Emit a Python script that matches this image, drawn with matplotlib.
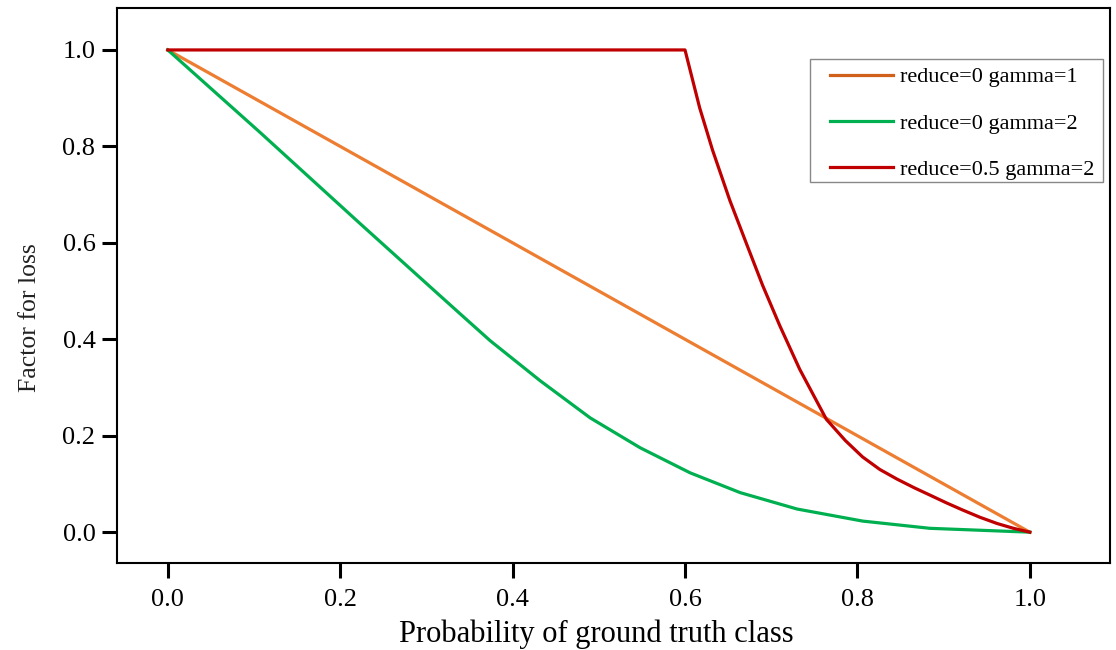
import matplotlib
matplotlib.use('Agg')
import matplotlib.pyplot as plt
from matplotlib.patches import Rectangle
import numpy as np

# values
orange_x = [0.0, 1.0]
orange_y = [1.0, 0.0]

green_x = [0.0, 0.107, 0.223, 0.316, 0.339, 0.374, 0.432, 0.490, 0.548,
           0.606, 0.664, 0.730, 0.806, 0.884, 1.0]
green_y = [1.0, 0.829, 0.640, 0.490, 0.453, 0.397, 0.314, 0.237, 0.175,
           0.123, 0.082, 0.048, 0.023, 0.008, 0.0]

red_x = [0.0, 0.600, 0.617, 0.632, 0.652, 0.672, 0.690, 0.710, 0.733, 0.764,
         0.786, 0.806, 0.826, 0.846, 0.866, 0.884, 0.903, 0.922, 0.942, 0.962,
         0.981, 1.0]
red_y = [1.0, 1.0, 0.880, 0.792, 0.688, 0.595, 0.512, 0.428, 0.338, 0.234,
         0.190, 0.156, 0.130, 0.110, 0.092, 0.077, 0.061, 0.046, 0.031, 0.018,
         0.008, 0.0]

labels = ['reduce=0 gamma=1', 'reduce=0 gamma=2', 'reduce=0.5 gamma=2']
colors = ['#ED7D31', '#00B050', '#C00000']

plt.rcParams['font.family'] = ['Liberation Serif', 'DejaVu Serif']

fig = plt.figure(figsize=(11.16, 6.5), dpi=100)
ax = fig.add_axes([0.1048, 0.1338, 0.8898, 0.8539])

lw = 2.3
ax.plot(orange_x, orange_y, color=colors[0], lw=lw, label=labels[0])
ax.plot(green_x, green_y, color=colors[1], lw=lw, label=labels[1])
ax.plot(red_x, red_y, color=colors[2], lw=lw, label=labels[2])

ax.set_xlim(-0.059, 1.093)
ax.set_ylim(-0.064, 1.087)
ax.set_xticks([0.0, 0.2, 0.4, 0.6, 0.8, 1.0])
ax.set_yticks([0.0, 0.2, 0.4, 0.6, 0.8, 1.0])
ax.set_xticklabels(['0.0', '0.2', '0.4', '0.6', '0.8', '1.0'])
ax.set_yticklabels(['0.0', '0.2', '0.4', '0.6', '0.8', '1.0'])
ax.tick_params(axis='both', direction='out', length=10.5, width=2.2,
               labelsize=19, pad=5)
ax.tick_params(axis='x', pad=8)

for s in ax.spines.values():
    s.set_linewidth(1.5)

ax.set_xlabel('Probability of ground truth class', fontsize=22)
ax.xaxis.set_label_coords(0.483, -0.102)
ax.set_ylabel('Factor for loss', fontsize=18.5, color='#222222')
ax.yaxis.set_label_coords(-0.076, 0.443)

# legend box drawn separately so its padding matches the reference
ax.add_patch(Rectangle((0.698, 0.686), 0.295, 0.222, transform=ax.transAxes,
                       facecolor='white', edgecolor='#888888', lw=1.0, zorder=4))
leg = ax.legend(loc='upper left', bbox_to_anchor=(0.718, 0.894),
                fontsize=16, frameon=False, borderpad=0, borderaxespad=0,
                handlelength=2.85, labelspacing=1.16, handletextpad=0.32)
leg.set_zorder(5)
leg.legend_handles[0].set_color('#D0601A')

fig.savefig('out.png', dpi=100)
